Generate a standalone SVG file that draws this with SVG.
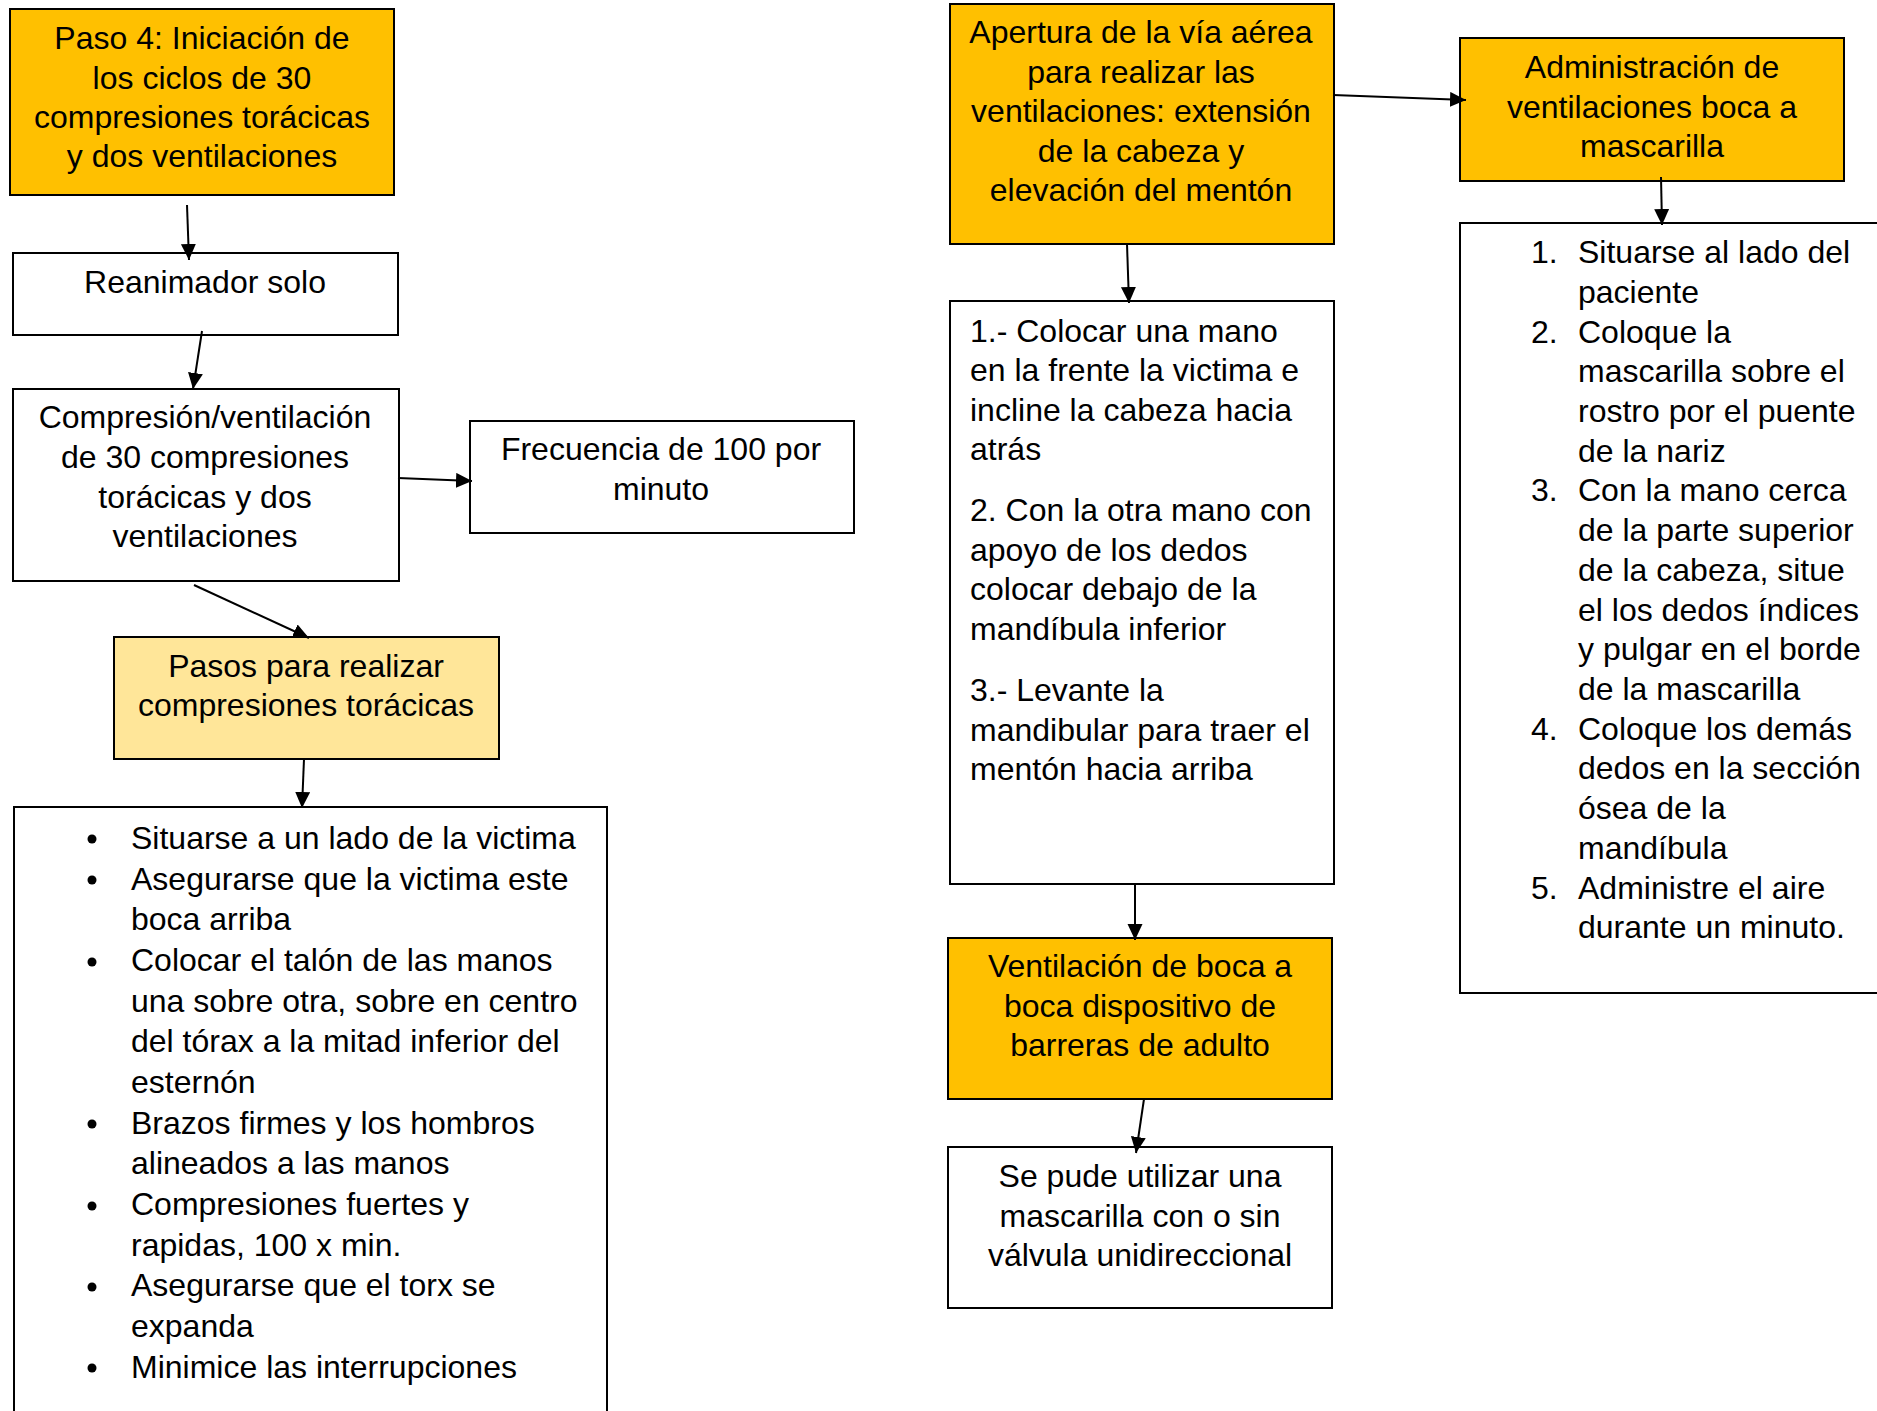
<svg xmlns="http://www.w3.org/2000/svg" width="1877" height="1411" viewBox="0 0 1877 1411">
<defs>
<style>
.box{stroke:#000;stroke-width:2;}
.o{fill:#FFC000;}
.y{fill:#FFE699;}
.w{fill:#FFFFFF;}
text{font-family:"Liberation Sans",Arial,sans-serif;font-size:32px;fill:#000;}
.c{text-anchor:middle;}
.con line{stroke:#000;stroke-width:2;marker-end:url(#ah);}
</style>
<marker id="ah" markerUnits="userSpaceOnUse" markerWidth="17" markerHeight="16" refX="16" refY="7.5" orient="auto">
<path d="M0,0 L16,7.5 L0,15 z" fill="#000"/>
</marker>
</defs>
<rect width="1877" height="1411" fill="#fff"/>

<g id="paso4">
<rect class="box o" x="10" y="9" width="384" height="186"/>
<text class="c" x="202" y="49">Paso 4: Iniciación de</text>
<text class="c" x="202" y="89">los ciclos de 30</text>
<text class="c" x="202" y="128">compresiones torácicas</text>
<text class="c" x="202" y="167">y dos ventilaciones</text>
</g>

<g id="reanimador">
<rect class="box w" x="13" y="253" width="385" height="82"/>
<text class="c" x="205" y="293">Reanimador solo</text>
</g>

<g id="compresion">
<rect class="box w" x="13" y="389" width="386" height="192"/>
<text class="c" x="205" y="428">Compresión/ventilación</text>
<text class="c" x="205" y="468">de 30 compresiones</text>
<text class="c" x="205" y="508">torácicas y dos</text>
<text class="c" x="205" y="547">ventilaciones</text>
</g>

<g id="frecuencia">
<rect class="box w" x="470" y="421" width="384" height="112"/>
<text class="c" x="661" y="460">Frecuencia de 100 por</text>
<text class="c" x="661" y="500">minuto</text>
</g>

<g id="pasos">
<rect class="box y" x="114" y="637" width="385" height="122"/>
<text class="c" x="306" y="677">Pasos para realizar</text>
<text class="c" x="306" y="716">compresiones torácicas</text>
</g>

<g id="bullets">
<rect class="box w" x="14" y="807" width="593" height="620"/>
<g>
<circle cx="92" cy="839" r="4.5" fill="#000"/>
<circle cx="92" cy="880" r="4.5" fill="#000"/>
<circle cx="92" cy="962" r="4.5" fill="#000"/>
<circle cx="92" cy="1124" r="4.5" fill="#000"/>
<circle cx="92" cy="1206" r="4.5" fill="#000"/>
<circle cx="92" cy="1287" r="4.5" fill="#000"/>
<circle cx="92" cy="1368" r="4.5" fill="#000"/>
</g>
<text x="131" y="849">Situarse a un lado de la victima</text>
<text x="131" y="890">Asegurarse que la victima este</text>
<text x="131" y="930">boca arriba</text>
<text x="131" y="971">Colocar el talón de las manos</text>
<text x="131" y="1012">una sobre otra, sobre en centro</text>
<text x="131" y="1052">del tórax a la mitad inferior del</text>
<text x="131" y="1093">esternón</text>
<text x="131" y="1134">Brazos firmes y los hombros</text>
<text x="131" y="1174">alineados a las manos</text>
<text x="131" y="1215">Compresiones fuertes y</text>
<text x="131" y="1256">rapidas, 100 x min.</text>
<text x="131" y="1296">Asegurarse que el torx se</text>
<text x="131" y="1337">expanda</text>
<text x="131" y="1378">Minimice las interrupciones</text>
</g>

<g id="apertura">
<rect class="box o" x="950" y="4" width="384" height="240"/>
<text class="c" x="1141" y="43">Apertura de la vía aérea</text>
<text class="c" x="1141" y="83">para realizar las</text>
<text class="c" x="1141" y="122">ventilaciones: extensión</text>
<text class="c" x="1141" y="162">de la cabeza y</text>
<text class="c" x="1141" y="201">elevación del mentón</text>
</g>

<g id="colocar">
<rect class="box w" x="950" y="301" width="384" height="583"/>
<text x="970" y="342">1.- Colocar una mano</text>
<text x="970" y="381">en la frente la victima e</text>
<text x="970" y="421">incline la cabeza hacia</text>
<text x="970" y="460">atrás</text>
<text x="970" y="521">2. Con la otra mano con</text>
<text x="970" y="561">apoyo de los dedos</text>
<text x="970" y="600">colocar debajo de la</text>
<text x="970" y="640">mandíbula inferior</text>
<text x="970" y="701">3.- Levante la</text>
<text x="970" y="741">mandibular para traer el</text>
<text x="970" y="780">mentón hacia arriba</text>
</g>

<g id="ventilacion">
<rect class="box o" x="948" y="938" width="384" height="161"/>
<text class="c" x="1140" y="977">Ventilación de boca a</text>
<text class="c" x="1140" y="1017">boca dispositivo de</text>
<text class="c" x="1140" y="1056">barreras de adulto</text>
</g>

<g id="sepude">
<rect class="box w" x="948" y="1147" width="384" height="161"/>
<text class="c" x="1140" y="1187">Se pude utilizar una</text>
<text class="c" x="1140" y="1227">mascarilla con o sin</text>
<text class="c" x="1140" y="1266">válvula unidireccional</text>
</g>

<g id="administracion">
<rect class="box o" x="1460" y="38" width="384" height="143"/>
<text class="c" x="1652" y="78">Administración de</text>
<text class="c" x="1652" y="118">ventilaciones boca a</text>
<text class="c" x="1652" y="157">mascarilla</text>
</g>

<g id="lista">
<rect class="box w" x="1460" y="223" width="440" height="770"/>
<text x="1531" y="263">1.</text>
<text x="1578" y="263">Situarse al lado del</text>
<text x="1578" y="303">paciente</text>
<text x="1531" y="343">2.</text>
<text x="1578" y="343">Coloque la</text>
<text x="1578" y="382">mascarilla sobre el</text>
<text x="1578" y="422">rostro por el puente</text>
<text x="1578" y="462">de la nariz</text>
<text x="1531" y="501">3.</text>
<text x="1578" y="501">Con la mano cerca</text>
<text x="1578" y="541">de la parte superior</text>
<text x="1578" y="581">de la cabeza, situe</text>
<text x="1578" y="621">el los dedos índices</text>
<text x="1578" y="660">y pulgar en el borde</text>
<text x="1578" y="700">de la mascarilla</text>
<text x="1531" y="740">4.</text>
<text x="1578" y="740">Coloque los demás</text>
<text x="1578" y="779">dedos en la sección</text>
<text x="1578" y="819">ósea de la</text>
<text x="1578" y="859">mandíbula</text>
<text x="1531" y="899">5.</text>
<text x="1578" y="899">Administre el aire</text>
<text x="1578" y="938">durante un minuto.</text>
</g>

<g id="connectors" class="con">
<line x1="187" y1="205" x2="189" y2="260"/>
<line x1="202" y1="331" x2="193" y2="389"/>
<line x1="398" y1="478" x2="472" y2="481"/>
<line x1="194" y1="585" x2="309" y2="638"/>
<line x1="304" y1="759" x2="302" y2="808"/>
<line x1="1333" y1="95" x2="1466" y2="100"/>
<line x1="1661" y1="177" x2="1662" y2="225"/>
<line x1="1127" y1="244" x2="1129" y2="303"/>
<line x1="1135" y1="884" x2="1135" y2="940"/>
<line x1="1144" y1="1099" x2="1136" y2="1153"/>
</g>
</svg>
